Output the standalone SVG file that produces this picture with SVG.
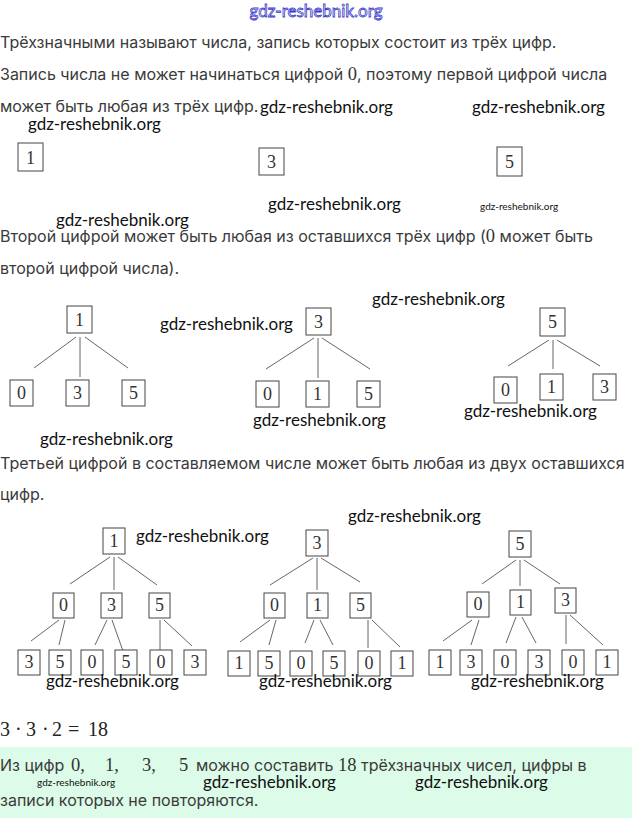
<svg xmlns="http://www.w3.org/2000/svg" width="632" height="818" viewBox="0 0 632 818">
<style>
.t{font-family:Inter,"Noto Sans",sans-serif;font-size:16px;fill:#3a3a3a}
.m{font-family:"Liberation Serif",serif;font-size:18.5px;fill:#333}
.wm{font-family:Lato,"Open Sans",sans-serif;font-size:17px;fill:#111}
.ws{font-family:Lato,"Open Sans",sans-serif;font-size:10px;fill:#111}
.b{fill:#fff;stroke:#444;stroke-width:1}
.d{font-family:"Liberation Serif",serif;font-size:18px;fill:#333;text-anchor:middle}
.c line{stroke:#666;stroke-width:1}
</style>
<rect width="632" height="818" fill="#fff"/>
<rect x="0" y="747" width="632" height="71" fill="#dcfbe9"/>
<text x="316" y="17" text-anchor="middle" font-family="Lato,sans-serif" font-size="17" fill="#fff" stroke="#3838c8" stroke-width="0.8">gdz-reshebnik.org</text>

<text class="t" x="0" y="48">Трёхзначными называют числа, запись которых состоит из трёх цифр.</text>
<text class="t" x="0" y="80">Запись числа не может начинаться цифрой <tspan class="m">0</tspan>, поэтому первой цифрой числа</text>
<text class="t" x="0" y="112">может быть любая из трёх цифр.</text>
<text class="wm" x="260" y="113">gdz-reshebnik.org</text>
<text class="wm" x="472" y="113">gdz-reshebnik.org</text>
<text class="wm" x="28" y="130">gdz-reshebnik.org</text>

<g id="s1n1"><rect class="b" x="18" y="143" width="25" height="28"/><text class="d" x="30.5" y="164">1</text></g>
<g id="s1n3"><rect class="b" x="259" y="148" width="25" height="27"/><text class="d" x="271.5" y="168">3</text></g>
<g id="s1n5"><rect class="b" x="497" y="147" width="25" height="29"/><text class="d" x="509.5" y="168">5</text></g>

<text class="wm" x="268" y="210">gdz-reshebnik.org</text>
<text class="ws" x="480" y="210">gdz-reshebnik.org</text>
<text class="wm" x="56" y="226">gdz-reshebnik.org</text>

<text class="t" x="0" y="242">Второй цифрой может быть любая из оставшихся трёх цифр (<tspan class="m">0</tspan> может быть</text>
<text class="t" x="0" y="274">второй цифрой числа).</text>

<text class="wm" x="372" y="305">gdz-reshebnik.org</text>
<text class="wm" x="160" y="330">gdz-reshebnik.org</text>

<g class="c" id="conn2">
<line x1="76" y1="337" x2="34" y2="368"/><line x1="80" y1="337" x2="80" y2="377"/><line x1="85" y1="337" x2="128" y2="368"/>
<line x1="314" y1="338" x2="266" y2="369"/><line x1="318" y1="338" x2="318" y2="378"/><line x1="322" y1="338" x2="370" y2="369"/>
<line x1="549" y1="340" x2="508" y2="366"/><line x1="553" y1="340" x2="553" y2="369"/><line x1="557" y1="340" x2="600" y2="366"/>
</g>

<g id="t1r"><rect class="b" x="67" y="306" width="25" height="27"/><text class="d" x="79.5" y="326">1</text></g>
<g id="t1a"><rect class="b" x="10" y="380" width="23" height="26"/><text class="d" x="21.5" y="399">0</text></g>
<g id="t1b"><rect class="b" x="66" y="380" width="23" height="26"/><text class="d" x="77.5" y="399">3</text></g>
<g id="t1c"><rect class="b" x="122" y="380" width="23" height="26"/><text class="d" x="133.5" y="399">5</text></g>

<g id="t2r"><rect class="b" x="306" y="308" width="25" height="27"/><text class="d" x="318.5" y="328">3</text></g>
<g id="t2a"><rect class="b" x="256" y="381" width="23" height="26"/><text class="d" x="267.5" y="400">0</text></g>
<g id="t2b"><rect class="b" x="306" y="381" width="23" height="26"/><text class="d" x="317.5" y="400">1</text></g>
<g id="t2c"><rect class="b" x="357" y="381" width="23" height="26"/><text class="d" x="368.5" y="400">5</text></g>

<g id="t3r"><rect class="b" x="540" y="308" width="25" height="28"/><text class="d" x="552.5" y="328">5</text></g>
<g id="t3a"><rect class="b" x="494" y="377" width="23" height="26"/><text class="d" x="505.5" y="396">0</text></g>
<g id="t3b"><rect class="b" x="540" y="374" width="23" height="26"/><text class="d" x="551.5" y="393">1</text></g>
<g id="t3c"><rect class="b" x="593" y="374" width="23" height="26"/><text class="d" x="604.5" y="393">3</text></g>

<text class="wm" x="464" y="417">gdz-reshebnik.org</text>
<text class="wm" x="253" y="426">gdz-reshebnik.org</text>
<text class="wm" x="40" y="445">gdz-reshebnik.org</text>

<text class="t" x="0" y="469">Третьей цифрой в составляемом числе может быть любая из двух оставшихся</text>
<text class="t" x="0" y="500">цифр.</text>

<text class="wm" x="348" y="522">gdz-reshebnik.org</text>
<text class="wm" x="136" y="542">gdz-reshebnik.org</text>

<g class="c" id="conn3">
<line x1="110" y1="557" x2="70" y2="584"/><line x1="114" y1="557" x2="114" y2="590"/><line x1="118" y1="557" x2="157" y2="585"/>
<line x1="59" y1="620" x2="31" y2="641"/><line x1="65" y1="620" x2="59" y2="645"/>
<line x1="107" y1="620" x2="95" y2="645"/><line x1="112" y1="620" x2="123" y2="651"/>
<line x1="160" y1="620" x2="160" y2="650"/><line x1="164" y1="620" x2="192" y2="646"/>
<line x1="313" y1="558" x2="270" y2="585"/><line x1="317" y1="558" x2="317" y2="590"/><line x1="321" y1="558" x2="360" y2="582"/>
<line x1="270" y1="620" x2="240" y2="642"/><line x1="276" y1="620" x2="269" y2="645"/>
<line x1="314" y1="620" x2="305" y2="643"/><line x1="320" y1="620" x2="333" y2="645"/>
<line x1="368" y1="620" x2="368" y2="648"/><line x1="372" y1="620" x2="400" y2="647"/>
<line x1="516" y1="560" x2="482" y2="584"/><line x1="520" y1="560" x2="520" y2="586"/><line x1="524" y1="560" x2="560" y2="584"/>
<line x1="472" y1="620" x2="443" y2="641"/><line x1="479" y1="620" x2="471" y2="645"/>
<line x1="516" y1="617" x2="506" y2="643"/><line x1="522" y1="617" x2="536" y2="643"/>
<line x1="566" y1="615" x2="566" y2="644"/><line x1="570" y1="615" x2="603" y2="645"/>
</g>

<g id="aR"><rect class="b" x="103" y="528" width="22" height="26"/><text class="d" x="114" y="547">1</text></g>
<g id="a0"><rect class="b" x="53" y="593" width="21" height="25"/><text class="d" x="63.5" y="611">0</text></g>
<g id="a3"><rect class="b" x="101" y="593" width="21" height="25"/><text class="d" x="111.5" y="611">3</text></g>
<g id="a5"><rect class="b" x="149" y="593" width="21" height="25"/><text class="d" x="159.5" y="611">5</text></g>
<g id="a03"><rect class="b" x="18" y="650" width="22" height="25"/><text class="d" x="29" y="668">3</text></g>
<g id="a05"><rect class="b" x="49" y="650" width="22" height="25"/><text class="d" x="60" y="668">5</text></g>
<g id="a30"><rect class="b" x="81" y="650" width="22" height="25"/><text class="d" x="92" y="668">0</text></g>
<g id="a35"><rect class="b" x="115" y="650" width="22" height="25"/><text class="d" x="126" y="668">5</text></g>
<g id="a50"><rect class="b" x="150" y="650" width="22" height="25"/><text class="d" x="161" y="668">0</text></g>
<g id="a53"><rect class="b" x="184" y="650" width="22" height="25"/><text class="d" x="195" y="668">3</text></g>

<g id="bR"><rect class="b" x="306" y="530" width="22" height="26"/><text class="d" x="317" y="549">3</text></g>
<g id="b0"><rect class="b" x="264" y="593" width="21" height="25"/><text class="d" x="274.5" y="611">0</text></g>
<g id="b1"><rect class="b" x="307" y="593" width="21" height="25"/><text class="d" x="317.5" y="611">1</text></g>
<g id="b5"><rect class="b" x="350" y="593" width="21" height="25"/><text class="d" x="360.5" y="611">5</text></g>
<g id="b01"><rect class="b" x="228" y="651" width="22" height="25"/><text class="d" x="239" y="669">1</text></g>
<g id="b05"><rect class="b" x="258" y="651" width="22" height="25"/><text class="d" x="269" y="669">5</text></g>
<g id="b10"><rect class="b" x="290" y="651" width="22" height="25"/><text class="d" x="301" y="669">0</text></g>
<g id="b15"><rect class="b" x="323" y="651" width="22" height="25"/><text class="d" x="334" y="669">5</text></g>
<g id="b50"><rect class="b" x="358" y="651" width="22" height="25"/><text class="d" x="369" y="669">0</text></g>
<g id="b51"><rect class="b" x="391" y="651" width="22" height="25"/><text class="d" x="402" y="669">1</text></g>

<g id="cR"><rect class="b" x="509" y="531" width="22" height="26"/><text class="d" x="520" y="550">5</text></g>
<g id="c0"><rect class="b" x="467" y="592" width="22" height="25"/><text class="d" x="478" y="610">0</text></g>
<g id="c1"><rect class="b" x="510" y="590" width="21" height="25"/><text class="d" x="520.5" y="608">1</text></g>
<g id="c3"><rect class="b" x="555" y="588" width="21" height="25"/><text class="d" x="565.5" y="606">3</text></g>
<g id="c01"><rect class="b" x="429" y="650" width="22" height="25"/><text class="d" x="440" y="668">1</text></g>
<g id="c03"><rect class="b" x="460" y="650" width="22" height="25"/><text class="d" x="471" y="668">3</text></g>
<g id="c10"><rect class="b" x="494" y="650" width="22" height="25"/><text class="d" x="505" y="668">0</text></g>
<g id="c13"><rect class="b" x="528" y="650" width="22" height="25"/><text class="d" x="539" y="668">3</text></g>
<g id="c30"><rect class="b" x="562" y="650" width="22" height="25"/><text class="d" x="573" y="668">0</text></g>
<g id="c31"><rect class="b" x="596" y="650" width="22" height="25"/><text class="d" x="607" y="668">1</text></g>

<text class="wm" x="46" y="687">gdz-reshebnik.org</text>
<text class="wm" x="259" y="687">gdz-reshebnik.org</text>
<text class="wm" x="471" y="687">gdz-reshebnik.org</text>

<text y="736" font-family="Liberation Serif,serif" font-size="20" fill="#222"><tspan x="0">3</tspan><tspan x="15">·</tspan><tspan x="26">3</tspan><tspan x="42">·</tspan><tspan x="52">2</tspan><tspan x="68">=</tspan><tspan x="88">18</tspan></text>

<text class="t" y="771"><tspan x="0">Из цифр</tspan><tspan class="m" font-size="20" x="71">0,</tspan><tspan class="m" font-size="20" x="105">1,</tspan><tspan class="m" font-size="20" x="142">3,</tspan><tspan class="m" font-size="20" x="179">5</tspan><tspan x="196">можно составить</tspan><tspan class="m" font-size="20" x="338">18</tspan><tspan x="361">трёхзначных чисел, цифры в</tspan></text>
<text class="ws" x="37" y="786">gdz-reshebnik.org</text>
<text class="wm" x="203" y="788">gdz-reshebnik.org</text>
<text class="wm" x="415" y="788">gdz-reshebnik.org</text>
<text class="t" x="0" y="806">записи которых не повторяются.</text>
</svg>
